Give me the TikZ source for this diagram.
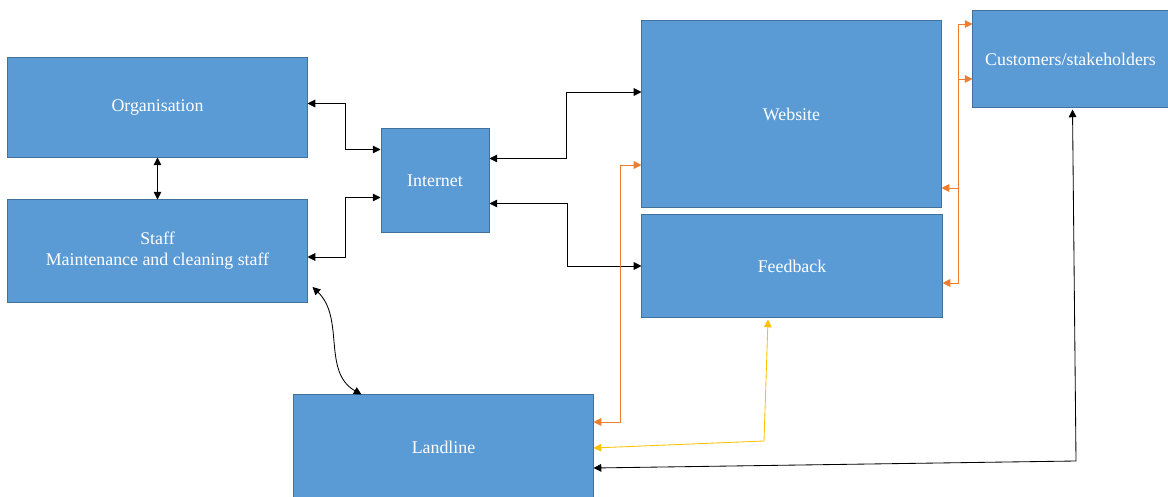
\documentclass[tikz,border=0pt]{standalone}
\usepackage{fontspec}
\setmainfont{Liberation Serif}
\usetikzlibrary{arrows.meta,calc}
\definecolor{boxblue}{HTML}{5B9BD5}
\definecolor{boxline}{HTML}{41719C}
\definecolor{linkorange}{HTML}{ED7D31}
\definecolor{linkgold}{HTML}{FFC000}
\begin{document}
\begin{tikzpicture}[x=0.025cm,y=-0.025cm,
	block/.style={draw=boxline,fill=boxblue,line width=0.7pt,text=white,font=\fontsize{12.7}{15}\selectfont,align=center,inner sep=0pt},
	dlink/.style={{Triangle[length=5.5pt,width=5.5pt]}-{Triangle[length=5.5pt,width=5.5pt]},line width=0.6pt},
	olink/.style={dlink,color=linkorange},
	glink/.style={dlink,color=linkgold}]
	\useasboundingbox (0,0) rectangle (1168,497);
	\begin{scope}
	\clip (0,0) rectangle (1168,497);
	\node [block,minimum width=7.475cm,minimum height=2.475cm] (org) at (157.5,107.5) {Organisation};
	\node [block,minimum width=7.475cm,minimum height=2.55cm] (staff) at (157.5,251) {Staff\\Maintenance and cleaning staff};
	\node [block,minimum width=2.7cm,minimum height=2.575cm] (inet) at (435,180.5) {Internet};
	\node [block,minimum width=7.475cm,minimum height=4.65cm] (web) at (791.5,114) {Website};
	\node [block,minimum width=7.5cm,minimum height=2.55cm] (feed) at (792,266) {Feedback};
	\node [block,minimum width=4.875cm,minimum height=2.4cm] (cust) at (1070.5,59) {Customers/stakeholders};
	\node [block,minimum width=7.475cm,minimum height=2.6cm] (land) at (443.5,447) {Landline};
	\end{scope}
	% bends of the long links to the landline
	\coordinate (gbend) at (764,441);
	\coordinate (kbend) at (1076,461);
	\draw [dlink] (org.south) -- (staff.north);
	\draw [dlink] ($(org.east)+(0,-4)$) -- ++(38,0) |- ($(inet.west)+(0,-31)$);
	\draw [dlink] ($(staff.east)+(0,6)$) -- ++(38,0) |- ($(inet.west)+(0,17)$);
	\draw [dlink] ($(inet.east)+(0,-22)$) -- ++(77,0) |- ($(web.west)+(0,-22)$);
	\draw [dlink] ($(inet.east)+(0,23)$) -- ++(78,0) |- (feed.west);
	\draw [dlink] ($(staff.east)+(5,36)$) .. controls (345,318) and (322,372) .. ($(land.north west)+(68,0)$);
	\draw [olink] ($(land.east)+(0,-25)$) -- ++(27,0) |- ($(web.west)+(0,51)$);
	\draw [olink] ($(web.east)+(0,74)$) -- ++(17,0) |- ($(cust.west)+(0,-35)$);
	\draw [olink] ($(feed.east)+(0,17)$) -- ++(16,0) |- ($(cust.west)+(0,20)$);
	\draw [glink] ($(land.east)+(0,1)$) -- (gbend) -- ($(feed.south)+(-24,2)$);
	\draw [dlink] ($(land.east)+(0,21)$) -- (kbend) -- ($(cust.south)+(2,2)$);
\end{tikzpicture}
\end{document}
